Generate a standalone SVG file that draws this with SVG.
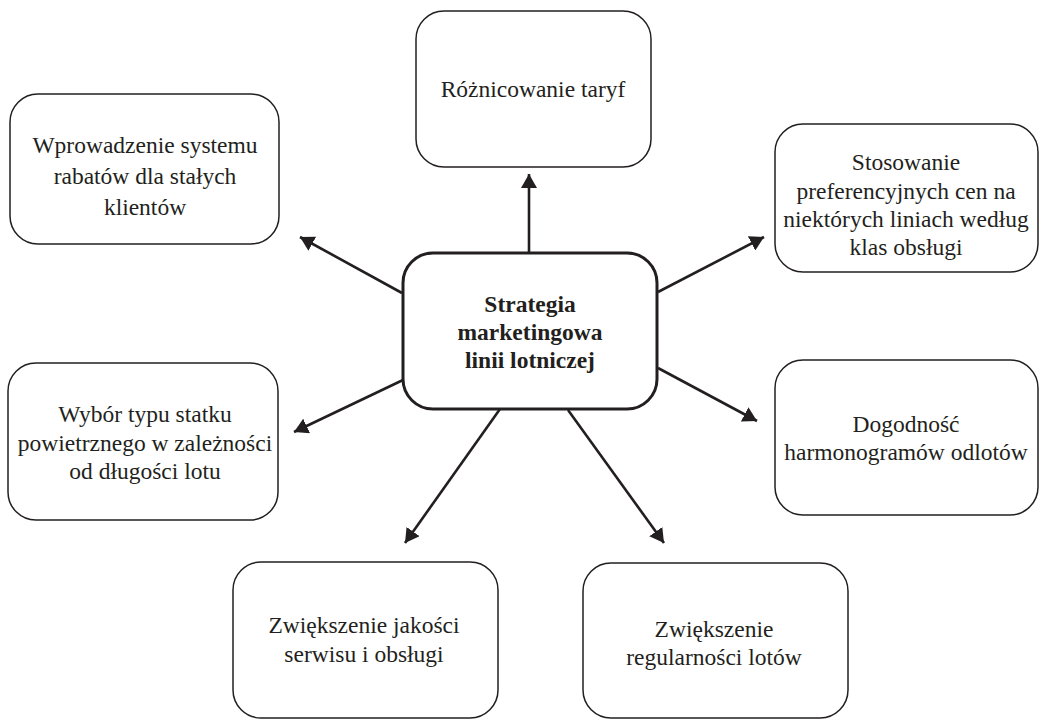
<svg xmlns="http://www.w3.org/2000/svg" width="1039" height="720" viewBox="0 0 1039 720">
  <style>
    .box { fill: #ffffff; stroke: #231f20; stroke-width: 1.5; }
    .hub { fill: #ffffff; stroke: #231f20; stroke-width: 3; }
    .lbl { font-family: "Liberation Serif", "Times New Roman", serif; font-size: 23.5px; fill: #231f20; text-anchor: middle; }
    .hubl { font-weight: bold; }
    .conn { stroke: #231f20; stroke-width: 2.6; fill: none; marker-end: url(#head); }
  </style>
  <defs>
    <marker id="head" markerUnits="userSpaceOnUse" markerWidth="14" markerHeight="16" refX="14" refY="8" orient="auto" viewBox="0 0 14 16">
      <path d="M0,0 L14,8 L0,16 z" fill="#231f20"/>
    </marker>
  </defs>

  <rect width="1039" height="720" fill="#ffffff"/>

  <!-- connectors from the central strategy box -->
  <g id="connectors">
    <line class="conn" x1="529" y1="253" x2="529" y2="174"/>
    <line class="conn" x1="402" y1="293" x2="300" y2="237"/>
    <line class="conn" x1="658" y1="292" x2="764" y2="237"/>
    <line class="conn" x1="403" y1="380" x2="294" y2="432"/>
    <line class="conn" x1="658" y1="368" x2="757" y2="421"/>
    <line class="conn" x1="500" y1="409" x2="405" y2="543"/>
    <line class="conn" x1="568" y1="410" x2="664" y2="543"/>
  </g>

  <g id="hub">
    <rect class="hub" x="403" y="253" width="254" height="156" rx="30"/>
    <text class="lbl hubl" x="530" y="312">Strategia</text>
    <text class="lbl hubl" x="530" y="340">marketingowa</text>
    <text class="lbl hubl" x="530" y="368">linii lotniczej</text>
  </g>

  <g id="taryfy">
    <rect class="box" x="416" y="11" width="235" height="156" rx="28"/>
    <text class="lbl" x="533" y="97">Różnicowanie taryf</text>
  </g>

  <g id="rabaty">
    <rect class="box" x="10" y="94" width="269" height="150" rx="28"/>
    <text class="lbl" x="145" y="153">Wprowadzenie systemu</text>
    <text class="lbl" x="145" y="184">rabatów dla stałych</text>
    <text class="lbl" x="145" y="215">klientów</text>
  </g>

  <g id="ceny">
    <rect class="box" x="775" y="124" width="263" height="148" rx="28"/>
    <text class="lbl" x="906" y="170">Stosowanie</text>
    <text class="lbl" x="906" y="199">preferencyjnych cen na</text>
    <text class="lbl" x="906" y="227">niektórych liniach według</text>
    <text class="lbl" x="906" y="255">klas obsługi</text>
  </g>

  <g id="statek">
    <rect class="box" x="8" y="363" width="270" height="157" rx="28"/>
    <text class="lbl" x="145" y="422">Wybór typu statku</text>
    <text class="lbl" x="145" y="451">powietrznego w zależności</text>
    <text class="lbl" x="145" y="479">od długości lotu</text>
  </g>

  <g id="harmonogramy">
    <rect class="box" x="775" y="360" width="263" height="155" rx="28"/>
    <text class="lbl" x="906" y="432">Dogodność</text>
    <text class="lbl" x="906" y="460">harmonogramów odlotów</text>
  </g>

  <g id="jakosc">
    <rect class="box" x="233" y="562" width="265" height="156" rx="28"/>
    <text class="lbl" x="364" y="633">Zwiększenie jakości</text>
    <text class="lbl" x="364" y="662">serwisu i obsługi</text>
  </g>

  <g id="regularnosc">
    <rect class="box" x="583" y="563" width="265" height="155" rx="28"/>
    <text class="lbl" x="714" y="637">Zwiększenie</text>
    <text class="lbl" x="714" y="665">regularności lotów</text>
  </g>
</svg>
